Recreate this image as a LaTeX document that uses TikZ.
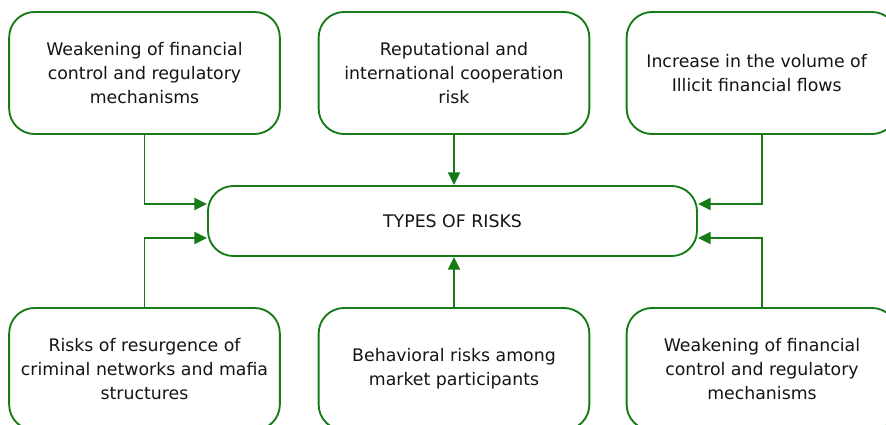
\documentclass[tikz,border=0pt]{standalone}
\usepackage{fontspec}
\setmainfont{DejaVu Sans}
\usetikzlibrary{arrows.meta}
\definecolor{gline}{RGB}{22,122,22}
\definecolor{txt}{RGB}{20,20,20}
\begin{document}
\begin{tikzpicture}[x=0.75pt,y=-0.75pt,
  lbl/.style={align=center,text=txt,inner sep=0pt,font=\fontsize{13}{18}\selectfont},
  box/.style={lbl,draw=gline,line width=1.4pt,rounded corners=19pt,minimum width=203pt,minimum height=91.5pt},
  hub/.style={lbl,draw=gline,line width=1.4pt,rounded corners=19pt,minimum width=366.75pt,minimum height=52.5pt},
  conn/.style={draw=gline,line width=1.4pt,-{Triangle[length=9.5pt,width=9pt]}}]
\useasboundingbox (0,0) rectangle (886,425);
\begin{scope}
\clip (0,0) rectangle (886,425);
\node[box] (tl) at (144.5,73) {Weakening of financial\\control and regulatory\\mechanisms};
\node[box] (tm) at (454,73) {Reputational and\\international cooperation\\risk};
\node[box] (tr) at (762,73) {};
\node[lbl] (trt) at ([xshift=-4pt]tr.center) {Increase in the volume of\\Illicit financial flows};
\node[hub] (c) at (452.5,221) {TYPES OF RISKS};
\node[box] (bl) at (144.5,369) {Risks of resurgence of\\criminal networks and mafia\\structures};
\node[box] (bm) at (454,369) {Behavioral risks among\\market participants};
\node[box] (br) at (762,369) {Weakening of financial\\control and regulatory\\mechanisms};
\end{scope}
\draw[conn] (tl.south) |- ([yshift=12.75pt]c.west);
\draw[conn] (tr.south) |- ([yshift=12.75pt]c.east);
\draw[conn] (bl.north) |- ([yshift=-12.75pt]c.west);
\draw[conn] (br.north) |- ([yshift=-12.75pt]c.east);
\draw[conn] (tm.south) -- (tm.south |- c.north);
\draw[conn] (bm.north) -- (bm.north |- c.south);
\end{tikzpicture}
\end{document}
